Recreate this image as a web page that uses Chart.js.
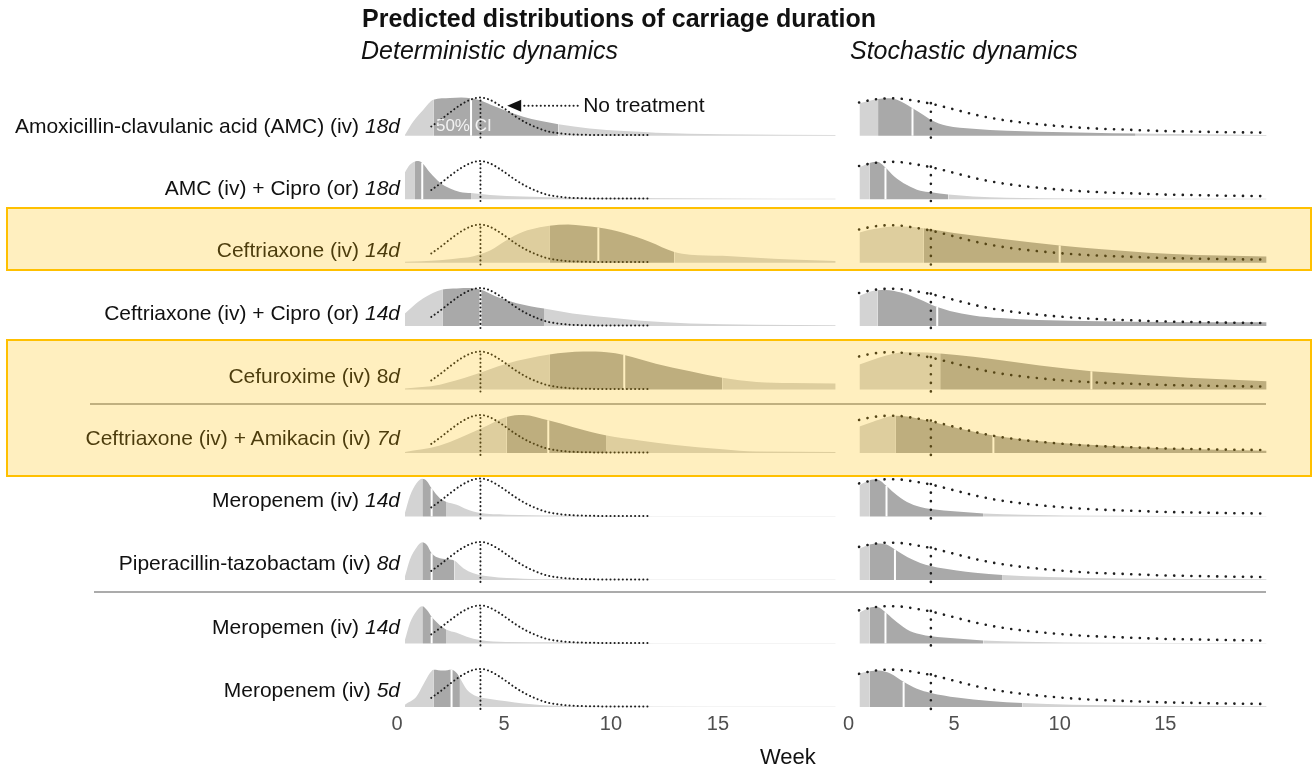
<!DOCTYPE html>
<html lang="en">
<head>
<meta charset="UTF-8" />
<title>Carriage duration</title>
<script src="https://cdn.jsdelivr.net/npm/chart.js"></script>
<style>
  body { margin: 0; background: #fff; font-family: "Liberation Sans", Arial, sans-serif; }
  #page { position: relative; width: 1314px; height: 767px; overflow: hidden; background: #fff; }
  canvas { position: absolute; top: 0; }
  .txt { position: absolute; white-space: nowrap; color: #111; line-height: 30px; }
  .label { position: absolute; right: 914px; white-space: nowrap; font-size: 21px; line-height: 24px; color: #111; }
  .rule { position: absolute; height: 2px; background: #ababab; }
  .box { position: absolute; box-sizing: border-box; background: rgba(255, 192, 0, 0.25); border: 2px solid #ffc000; }
</style>
</head>
<body>
<div id="page">
  <div class="rule" style="left:90px; top:403px; width:1176px;"></div>
  <div class="rule" style="left:94px; top:591px; width:1172px;"></div>
  <canvas id="det" width="465" height="767" style="left:380px"></canvas>
  <canvas id="sto" width="450" height="767" style="left:840px"></canvas>
  <div id="labels"></div>
  <div class="txt" style="left:362px; top:3px; font-size:25px; font-weight:bold;">Predicted distributions of carriage duration</div>
  <div class="txt" style="left:361px; top:35px; font-size:25px; font-style:italic;">Deterministic dynamics</div>
  <div class="txt" style="left:850px; top:35px; font-size:25px; font-style:italic;">Stochastic dynamics</div>
  <div class="txt" style="left:760px; top:742px; font-size:22px;">Week</div>
  <div class="box" style="left:6px; top:207px; width:1306px; height:64px;"></div>
  <div class="box" style="left:6px; top:339px; width:1306px; height:138px;"></div>
</div>
<script>
// rows, top to bottom
const ROW_NAMES = [
  "Amoxicillin-clavulanic acid (AMC) (iv) ",
  "AMC (iv) + Cipro (or) ",
  "Ceftriaxone (iv) ",
  "Ceftriaxone (iv) + Cipro (or) ",
  "Cefuroxime (iv) 8",
  "Ceftriaxone (iv) + Amikacin (iv) ",
  "Meropenem (iv) ",
  "Piperacillin-tazobactam (iv) ",
  "Meropemen (iv) ",
  "Meropenem (iv) "
];
const ROW_DAYS = ["18d", "18d", "14d", "14d", "d", "7d", "14d", "8d", "14d", "5d"];

const X_TICKS = [0, 5, 10, 15];
const NT_MEDIAN = 3.9;

// no treatment curves (relative density, peak = 1)
const DET_NT_X = [1.6, 2.0, 2.5, 3.0, 3.5, 3.9, 4.3, 4.7, 5.1, 5.5, 6.0, 6.5, 7.0, 7.5, 8.0, 9.0, 10.0, 11.8];
const DET_NT_Y = [0.24, 0.40, 0.62, 0.82, 0.96, 1.0, 0.95, 0.83, 0.68, 0.52, 0.35, 0.22, 0.12, 0.07, 0.04, 0.02, 0.015, 0.015];
const STO_NT_X = [0.5, 1.0, 1.5, 2.0, 2.5, 3.0, 3.9, 5.0, 6.0, 7.0, 8.0, 9.0, 10, 11, 12, 13, 14, 15, 16, 17, 18, 19.6];
const STO_NT_Y = [0.87, 0.93, 0.97, 0.98, 0.97, 0.93, 0.84, 0.69, 0.55, 0.44, 0.36, 0.30, 0.25, 0.21, 0.18, 0.16, 0.14, 0.12, 0.11, 0.10, 0.09, 0.08];

// deterministic dynamics: density per row
const DET_X = [
  [0.37, 0.76, 1.23, 1.7, 2.48, 3.0, 3.46, 3.88, 4.35, 5.12, 5.9, 6.68, 7.54, 9.0, 10.6, 12.1, 15.2, 20.5],
  [0.37, 0.6, 0.84, 1.0, 1.18, 1.54, 2.0, 2.48, 2.94, 3.46, 4.35, 5.9, 7.5, 10.6, 15.2, 20.5],
  [0.37, 2.0, 3.0, 3.57, 4.35, 5.12, 5.9, 6.68, 7.12, 8.0, 8.7, 9.41, 10.6, 11.8, 12.96, 13.7, 15.2, 16.8, 18.4, 20.5],
  [0.37, 0.76, 1.23, 2.12, 2.79, 3.41, 3.9, 4.66, 5.59, 6.87, 8.2, 9.8, 11.4, 13.7, 16.8, 20.5],
  [0.37, 2.0, 3.57, 5.12, 7.12, 8.71, 9.8, 10.62, 12.1, 13.7, 15.2, 16.8, 18.4, 20.5],
  [0.37, 2.0, 3.9, 5.12, 5.9, 7.07, 8.24, 9.8, 11.35, 12.9, 15.2, 16.8, 20.5],
  [0.37, 0.6, 0.92, 1.18, 1.4, 1.62, 2.0, 2.29, 2.79, 3.26, 3.88, 5.1, 7.5, 12.0, 20.5],
  [0.37, 0.6, 0.92, 1.18, 1.4, 1.62, 2.0, 2.48, 2.68, 3.1, 3.57, 4.35, 5.9, 7.5, 12.0, 20.5],
  [0.37, 0.6, 0.92, 1.18, 1.4, 1.62, 2.0, 2.29, 2.79, 3.26, 3.88, 5.1, 7.5, 12.0, 20.5],
  [0.37, 0.92, 1.23, 1.54, 1.7, 2.16, 2.55, 2.79, 2.94, 3.26, 3.72, 4.35, 5.12, 5.9, 6.68, 7.5, 9.0, 20.5]
];
const DET_Y = [
  [0.02, 0.37, 0.68, 0.94, 0.99, 1.0, 0.98, 0.93, 0.82, 0.65, 0.5, 0.39, 0.30, 0.19, 0.12, 0.08, 0.04, 0.02],
  [0.70, 0.90, 0.99, 1.0, 0.95, 0.70, 0.44, 0.28, 0.19, 0.16, 0.11, 0.07, 0.045, 0.03, 0.02, 0.01],
  [0.02, 0.06, 0.12, 0.17, 0.32, 0.59, 0.81, 0.93, 0.97, 1.0, 0.97, 0.92, 0.78, 0.55, 0.28, 0.21, 0.18, 0.13, 0.08, 0.04],
  [0.33, 0.53, 0.73, 0.96, 0.99, 1.0, 0.96, 0.77, 0.6, 0.46, 0.33, 0.23, 0.14, 0.07, 0.035, 0.02],
  [0.03, 0.13, 0.38, 0.68, 0.92, 1.0, 0.98, 0.91, 0.68, 0.48, 0.31, 0.20, 0.17, 0.16],
  [0.03, 0.2, 0.64, 0.95, 1.0, 0.86, 0.68, 0.46, 0.33, 0.22, 0.1, 0.04, 0.03],
  [0.09, 0.53, 0.88, 0.99, 0.93, 0.74, 0.48, 0.39, 0.31, 0.19, 0.09, 0.05, 0.03, 0.01, 0.005],
  [0.09, 0.53, 0.86, 0.99, 0.92, 0.70, 0.57, 0.54, 0.51, 0.31, 0.18, 0.09, 0.035, 0.02, 0.005, 0.005],
  [0.09, 0.53, 0.86, 0.98, 0.88, 0.70, 0.48, 0.37, 0.28, 0.18, 0.09, 0.04, 0.03, 0.01, 0.005],
  [0.06, 0.28, 0.59, 0.89, 0.98, 0.96, 0.98, 0.89, 0.76, 0.46, 0.28, 0.21, 0.15, 0.09, 0.05, 0.03, 0.01, 0.005]
];
const DET_Q25 = [1.7, 0.84, 7.12, 2.12, 7.12, 5.12, 1.18, 1.18, 1.18, 1.7];
const DET_MED = [3.46, 1.18, 9.41, 3.9, 10.62, 7.07, 1.62, 1.62, 1.62, 2.55];
const DET_Q75 = [7.54, 3.46, 12.96, 6.87, 15.2, 9.8, 2.29, 2.68, 2.29, 2.94];

// stochastic dynamics: density per row
const STO_X = [
  [0.52, 1.0, 1.4, 1.82, 2.3, 3.03, 3.55, 3.9, 4.65, 5.9, 7.5, 9.06, 11.4, 13.6, 15.3, 19.8],
  [0.52, 0.99, 1.35, 1.75, 2.14, 2.77, 3.4, 3.9, 4.73, 5.9, 7.5, 10.6, 19.8],
  [0.52, 1.2, 2.2, 3.0, 3.55, 5.0, 7.2, 10.0, 12.0, 14.2, 16.5, 19.8],
  [0.52, 1.0, 1.37, 1.75, 2.5, 3.3, 4.2, 4.8, 5.9, 7.2, 9.0, 11.9, 15.0, 19.8],
  [0.52, 1.19, 2.3, 3.08, 4.34, 5.91, 7.49, 9.06, 11.5, 13.8, 16.1, 19.8],
  [0.52, 1.19, 2.22, 2.77, 3.9, 5.13, 6.86, 9.06, 11.4, 13.8, 16.1, 19.8],
  [0.52, 0.99, 1.35, 1.8, 2.14, 2.77, 3.4, 3.9, 5.13, 6.4, 8.27, 12.2, 19.8],
  [0.52, 0.99, 1.4, 1.8, 2.2, 2.8, 3.4, 3.9, 5.13, 6.0, 7.3, 9.5, 13.0, 19.8],
  [0.52, 0.99, 1.35, 1.75, 2.14, 2.77, 3.4, 3.9, 5.13, 6.38, 8.27, 12.2, 19.8],
  [0.52, 0.99, 1.43, 1.98, 2.61, 3.24, 3.9, 5.13, 6.7, 8.24, 10.6, 13.8, 19.8]
];
const STO_Y = [
  [0.85, 0.92, 0.96, 0.98, 0.94, 0.72, 0.54, 0.41, 0.26, 0.18, 0.13, 0.105, 0.08, 0.06, 0.045, 0.02],
  [0.83, 0.95, 0.98, 0.83, 0.61, 0.37, 0.22, 0.18, 0.12, 0.07, 0.035, 0.02, 0.01],
  [0.79, 0.88, 0.95, 0.94, 0.9, 0.78, 0.63, 0.45, 0.35, 0.26, 0.2, 0.16],
  [0.79, 0.9, 0.94, 0.95, 0.88, 0.72, 0.5, 0.4, 0.28, 0.21, 0.16, 0.13, 0.11, 0.1],
  [0.66, 0.79, 0.96, 0.98, 0.95, 0.86, 0.75, 0.63, 0.48, 0.39, 0.31, 0.22],
  [0.70, 0.83, 0.98, 0.96, 0.83, 0.66, 0.46, 0.31, 0.22, 0.15, 0.105, 0.06],
  [0.82, 0.95, 0.97, 0.8, 0.63, 0.38, 0.25, 0.2, 0.13, 0.08, 0.045, 0.02, 0.01],
  [0.82, 0.93, 0.96, 0.93, 0.8, 0.6, 0.45, 0.37, 0.25, 0.19, 0.13, 0.08, 0.04, 0.02],
  [0.81, 0.94, 0.96, 0.82, 0.63, 0.37, 0.24, 0.19, 0.13, 0.08, 0.045, 0.02, 0.01],
  [0.88, 0.94, 0.96, 0.88, 0.66, 0.48, 0.37, 0.25, 0.16, 0.105, 0.06, 0.035, 0.02]
];
const STO_Q25 = [1.4, 0.99, 3.55, 1.37, 4.34, 2.22, 0.99, 0.99, 0.99, 0.99];
const STO_MED = [3.03, 1.75, 10.0, 4.2, 11.5, 6.86, 1.8, 2.2, 1.75, 2.61];
const STO_Q75 = [13.6, 4.73, 19.8, 19.8, 19.8, 19.8, 6.4, 7.3, 6.38, 8.24];

// styling
const RIDGE_H = 0.6;       // peak height in row units
const LIGHT = "#d3d3d3";
const DARK = "#a9a9a9";
const LABEL_CENTER_Y = [126, 188, 250, 313, 376, 438, 500, 563, 627, 690];

const nRows = ROW_NAMES.length;

function buildDatasets(xs, ys, q25, med, q75, ntX, ntY, dash, dotW) {
  const sets = [];
  for (let r = 0; r < nRows; r++) {
    const base = nRows - 1 - r;
    const pts = xs[r].map((x, i) => ({ x: x, y: base + ys[r][i] * RIDGE_H }));
    sets.push({
      data: pts,
      fill: { value: base },
      borderWidth: 0,
      borderColor: "rgba(0,0,0,0)",
      backgroundColor: LIGHT,
      pointRadius: 0,
      cubicInterpolationMode: "monotone",
      order: 3,
      segment: {
        backgroundColor: (c) => {
          const x0 = xs[r][c.p0DataIndex];
          return x0 >= q25[r] && x0 < q75[r] ? DARK : LIGHT;
        }
      }
    });
    const mi = xs[r].indexOf(med[r]);
    sets.push({
      data: [{ x: med[r], y: base }, { x: med[r], y: pts[mi].y }],
      borderColor: "#ffffff",
      borderWidth: 2,
      pointRadius: 0,
      fill: false,
      order: 2
    });
    sets.push({
      data: ntX.map((x, i) => ({ x: x, y: base + ntY[i] * RIDGE_H })),
      borderColor: "#1e1e1e",
      borderWidth: dotW,
      borderDash: dash,
      borderCapStyle: "round",
      pointRadius: 0,
      fill: false,
      cubicInterpolationMode: "monotone",
      order: 1
    });
    sets.push({
      data: [{ x: NT_MEDIAN, y: base - 0.03 }, { x: NT_MEDIAN, y: base + RIDGE_H }],
      borderColor: "#1e1e1e",
      borderWidth: dotW,
      borderDash: dash,
      borderCapStyle: "round",
      pointRadius: 0,
      fill: false,
      order: 1
    });
  }
  return sets;
}

// "No treatment" arrow and "50% CI" note, in data coordinates of the left panel
const notes = {
  id: "notes",
  afterDatasetsDraw(chart) {
    const x = chart.scales.x, y = chart.scales.y, ctx = chart.ctx;
    const top = nRows - 1;
    ctx.save();
    ctx.fillStyle = "rgba(255,255,255,0.85)";
    ctx.font = '17px "Liberation Sans", Arial, sans-serif';
    ctx.textBaseline = "middle";
    ctx.fillText("50% CI", x.getPixelForValue(1.82), y.getPixelForValue(top + 0.14));
    const ay = y.getPixelForValue(top + 0.47);
    ctx.strokeStyle = "#1e1e1e";
    ctx.lineWidth = 2;
    ctx.lineCap = "round";
    ctx.setLineDash([0.1, 4]);
    ctx.beginPath();
    ctx.moveTo(x.getPixelForValue(5.95), ay);
    ctx.lineTo(x.getPixelForValue(8.45), ay);
    ctx.stroke();
    ctx.setLineDash([]);
    const tip = x.getPixelForValue(5.15);
    ctx.fillStyle = "#111";
    ctx.beginPath();
    ctx.moveTo(tip, ay);
    ctx.lineTo(tip + 14, ay - 6);
    ctx.lineTo(tip + 14, ay + 6);
    ctx.closePath();
    ctx.fill();
    ctx.font = '21px "Liberation Sans", Arial, sans-serif';
    ctx.fillText("No treatment", x.getPixelForValue(8.7), ay);
    ctx.restore();
  }
};

function makeChart(id, xmax, pad, datasets, plugins) {
  return new Chart(document.getElementById(id), {
    type: "line",
    data: { datasets: datasets },
    plugins: plugins,
    options: {
      responsive: false,
      animation: false,
      events: [],
      layout: { padding: pad },
      plugins: { legend: { display: false }, tooltip: { enabled: false } },
      scales: {
        x: {
          type: "linear",
          min: 0,
          max: xmax,
          grid: { display: false, drawTicks: false },
          border: { display: false },
          afterBuildTicks: (s) => { s.ticks = X_TICKS.map((v) => ({ value: v })); },
          ticks: {
            padding: 0,
            color: "#4f4f4f",
            font: { family: '"Liberation Sans", Arial, sans-serif', size: 20 }
          }
        },
        y: {
          type: "linear",
          display: false,
          min: -0.079,
          max: 9.751
        }
      }
    }
  });
}

makeChart("det", 20.6, { left: 17, right: 7.2, top: 88, bottom: 31 },
  buildDatasets(DET_X, DET_Y, DET_Q25, DET_MED, DET_Q75, DET_NT_X, DET_NT_Y, [0.1, 4], 2), [notes]);
makeChart("sto", 19.8, { left: 8.5, right: 23.3, top: 88, bottom: 31 },
  buildDatasets(STO_X, STO_Y, STO_Q25, STO_MED, STO_Q75, STO_NT_X, STO_NT_Y, [0.1, 8.5], 2.6), []);

// row labels
const holder = document.getElementById("labels");
ROW_NAMES.forEach((name, r) => {
  const el = document.createElement("div");
  el.className = "label";
  el.style.top = (LABEL_CENTER_Y[r] - 12) + "px";
  el.textContent = name;
  const it = document.createElement("i");
  it.textContent = ROW_DAYS[r];
  el.appendChild(it);
  holder.appendChild(el);
});
</script>
</body>
</html>
